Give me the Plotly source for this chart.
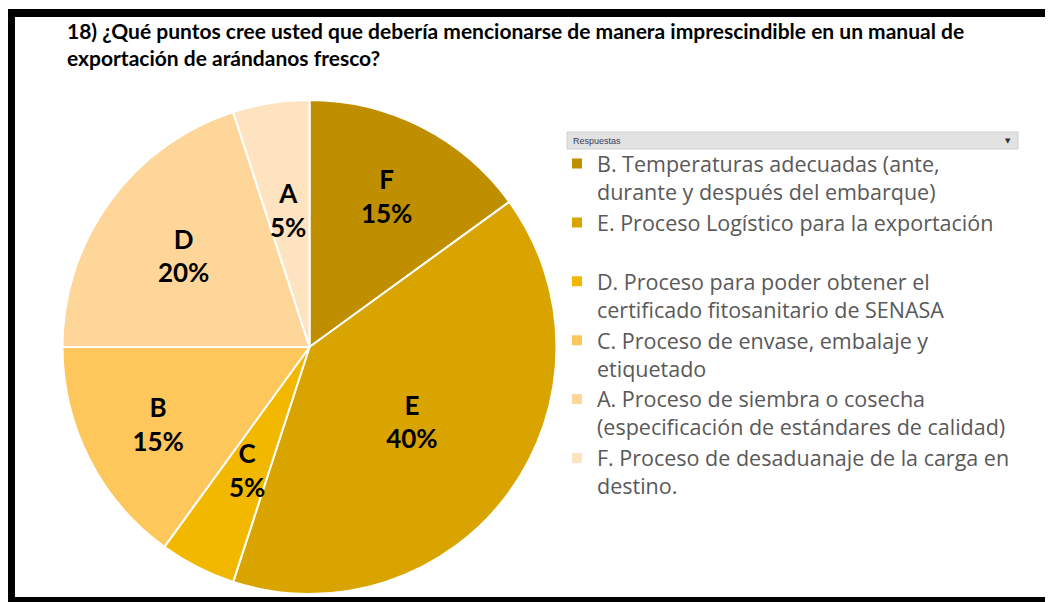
import math
import plotly.graph_objects as go

# page is rendered with an 8px body margin: build the figure to fill the rest
OFF = 8
PAGE_W, PAGE_H = 1053, 602
FW, FH = PAGE_W - OFF, PAGE_H - OFF

# ---- data ----
slice_letters = ["F", "E", "C", "B", "D", "A"]
slice_values = [15, 40, 5, 15, 20, 5]
legend_labels = [
    "B. Temperaturas adecuadas (ante,<br>durante y después del embarque)",
    "E. Proceso Logístico para la exportación<br> ",
    "D. Proceso para poder obtener el<br>certificado fitosanitario de SENASA",
    "C. Proceso de envase, embalaje y<br>etiquetado",
    "A. Proceso de siembra o cosecha<br>(especificación de estándares de calidad)",
    "F. Proceso de desaduanaje de la carga en<br>destino.",
]
title_text = ("18) ¿Qué puntos cree usted que debería mencionarse de manera imprescindible en un manual de"
              "<br>exportación de arándanos fresco?")
legend_header = "Respuestas"

# ---- style ----
slice_colors = ["#BF8F00", "#D9A400", "#F2B800", "#FEC75C", "#FED699", "#FEE3C0"]
small_slice_label_r = 0.56  # radial fraction for labels of slices too thin for inside text
LABEL_SIZE = 26


def px(x):
    return (x - OFF) / FW


def py(y):
    return 1 - (y - OFF) / FH


# pie placement (page pixels)
PIE_X0, PIE_X1, PIE_Y0, PIE_Y1 = 61, 558, 100, 594

total = sum(slice_values)
small = [v / total < 0.08 for v in slice_values]
textpos = ["none" if s else "inside" for s in small]

fig = go.Figure()
fig.add_trace(go.Pie(
    labels=legend_labels,
    values=slice_values,
    customdata=slice_letters,
    texttemplate="<b>%{customdata}<br>%{percent:.0%}</b>",
    textposition=textpos,
    insidetextorientation="horizontal",
    textfont=dict(family="Lato", size=LABEL_SIZE, color="#000000"),
    marker=dict(colors=slice_colors, line=dict(color="#FFFFFF", width=2)),
    sort=False,
    direction="clockwise",
    rotation=0,
    domain=dict(x=[px(PIE_X0), px(PIE_X1)], y=[py(PIE_Y1), py(PIE_Y0)]),
    hoverinfo="label+percent",
))

# labels for thin slices, placed at each slice's mid-angle
cx = (PIE_X0 + PIE_X1) / 2
cy = (PIE_Y0 + PIE_Y1) / 2
R = min(PIE_X1 - PIE_X0, PIE_Y1 - PIE_Y0) / 2
annotations = []
cum = 0
for letter, v, s in zip(slice_letters, slice_values, small):
    mid = (cum + v / 2) / total * 2 * math.pi
    cum += v
    if not s:
        continue
    lx = cx + small_slice_label_r * R * math.sin(mid)
    ly = cy - small_slice_label_r * R * math.cos(mid)
    annotations.append(dict(
        text=f"<b>{letter}<br>{round(v / total * 100)}%</b>", xref="paper", yref="paper",
        x=px(lx), y=py(ly), xanchor="center", yanchor="middle", showarrow=False,
        font=dict(family="Lato", size=LABEL_SIZE, color="#000000")))

annotations += [
    dict(text=legend_header, xref="paper", yref="paper", x=px(571), y=py(140.5), xanchor="left",
         yanchor="middle", showarrow=False, font=dict(family="Liberation Sans", size=9, color="#3A3A5A")),
    dict(text="▼", xref="paper", yref="paper", x=px(1008), y=py(140.5), xanchor="center",
         yanchor="middle", showarrow=False, font=dict(family="DejaVu Sans", size=7, color="#333333")),
    dict(text="<b>" + title_text.replace("<br>", "</b><br><b>") + "</b>", xref="paper", yref="paper",
         x=px(65), y=py(44), xanchor="left", yanchor="middle", align="left", showarrow=False,
         font=dict(family="Lato", size=21, color="#000000")),
]

shapes = [
    # legend header bar
    dict(type="rect", xref="paper", yref="paper", x0=px(567), x1=px(1018), y0=py(149), y1=py(132),
         fillcolor="#E2E2E2", line=dict(color="#D0D0D0", width=1), layer="below"),
    # black frame
    dict(type="rect", xref="paper", yref="paper", x0=0, x1=1, y0=py(17), y1=py(9),
         fillcolor="#000000", line=dict(width=0)),
    dict(type="rect", xref="paper", yref="paper", x0=0, x1=px(15), y0=0, y1=py(9),
         fillcolor="#000000", line=dict(width=0)),
    dict(type="rect", xref="paper", yref="paper", x0=0, x1=1, y0=0, y1=py(597),
         fillcolor="#000000", line=dict(width=0)),
    dict(type="line", xref="paper", yref="paper", x0=px(1051), x1=px(1051), y0=py(597), y1=py(17),
         line=dict(color="#C8C8C8", width=1)),
]

fig.update_layout(
    width=FW, height=FH,
    margin=dict(l=0, r=0, t=0, b=0),
    paper_bgcolor="#FFFFFF",
    plot_bgcolor="#FFFFFF",
    showlegend=True,
    legend=dict(x=px(557), y=py(143), xanchor="left", yanchor="top",
                font=dict(family="Open Sans", size=21.5, color="#595959"),
                valign="top", bgcolor="rgba(0,0,0,0)", traceorder="normal",
                itemclick=False, itemdoubleclick=False),
    uniformtext=dict(minsize=LABEL_SIZE, mode="show"),
    shapes=shapes,
    annotations=annotations,
)

fig.write_html("out.html")
